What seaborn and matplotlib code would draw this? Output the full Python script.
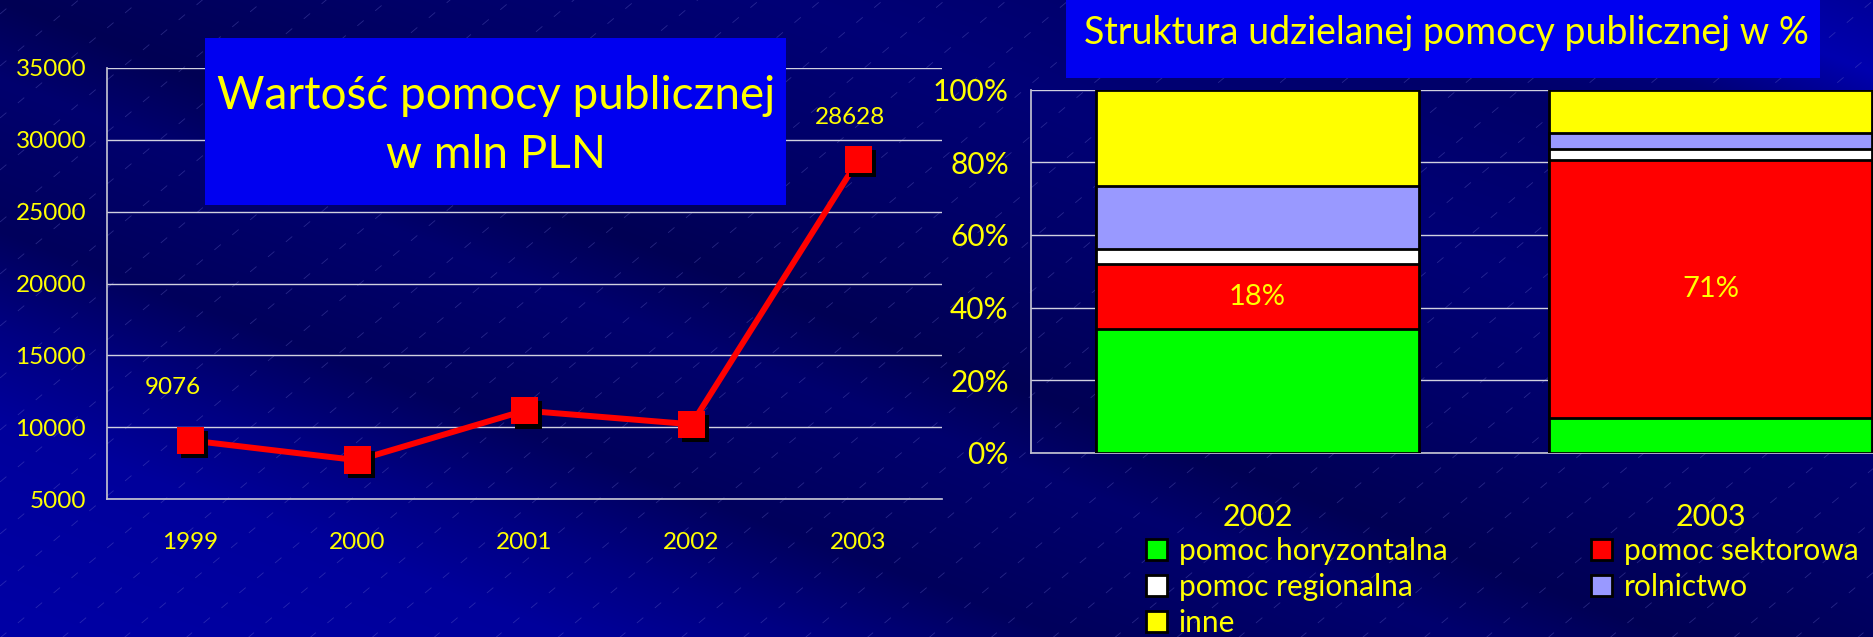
import numpy as np
import matplotlib
matplotlib.use('Agg')
import matplotlib.pyplot as plt
import matplotlib.patheffects as pe
from matplotlib.patches import Rectangle, Patch
from matplotlib.collections import LineCollection
import seaborn as sns

# dane - wartość pomocy publicznej (mln PLN)
years = ['1999', '2000', '2001', '2002', '2003']
values = [9076, 7700, 11150, 10200, 28628]
labelled = [0, 4]

# dane - struktura pomocy w %
bar_years = ['2002', '2003']
horyzontalna = [34, 9.5]
sektorowa = [18, 71]
regionalna = [4, 3]
rolnictwo = [17.5, 4.5]
inne = [26.5, 12]

YELLOW = '#FFFF00'
sns.set_theme(style='white')
plt.rcParams['font.family'] = ['Lato', 'DejaVu Sans']

W, H = 1873, 637
fig = plt.figure(figsize=(W / 100, H / 100), dpi=100)

# tło slajdu (granat z ukośnymi pasami)
bg = fig.add_axes([0, 0, 1, 1], zorder=-10)
yy, xx = np.mgrid[0:H, 0:W]
u = yy - 0.38 * xx
blue = np.interp(u, [-720, -640, -560, -480, -300, -150, 0, 80, 230, 330, 420, 640],
                 [150, 175, 120, 105, 118, 104, 84, 110, 92, 130, 155, 165])
img = np.dstack([np.zeros_like(blue), np.zeros_like(blue), blue / 255.0])
bg.imshow(img, aspect='auto', extent=[0, W, 0, H], origin='upper')
segs = []
for c in range(-W, H + 50, 52):
    segs.append([(0, c), (W, c + W * 0.84)])
bg.add_collection(LineCollection(segs, colors='#7070D0', linewidths=0.6, alpha=0.35,
                                 linestyles=[(0, (10, 18))]))
bg.set_xlim(0, W)
bg.set_ylim(0, H)
bg.axis('off')

# wykres liniowy
ax1 = fig.add_axes([107 / W, 138 / H, 835 / W, 431 / H])
ax1.patch.set_alpha(0)
sns.lineplot(x=years, y=values, color='#FF0000', lw=4.3, ax=ax1, zorder=3)
sns.scatterplot(x=years, y=values, marker='s', s=390, color='#FF0000', edgecolor='#FF0000',
                linewidth=0, legend=False, ax=ax1, zorder=4,
                path_effects=[pe.SimplePatchShadow(offset=(3, -3), shadow_rgbFace='black', alpha=1),
                              pe.Normal()])
offsets = [(-13, 38), (-6, 30)]
for i, off in zip(labelled, offsets):
    ax1.annotate(str(values[i]), (i, values[i]), xytext=off, textcoords='offset points',
                 ha='center', va='center', color=YELLOW, fontsize=17.5)
ax1.set_ylim(5000, 35000)
ax1.set_yticks(range(5000, 35001, 5000))
ax1.set_xlim(-0.5, 4.5)
ax1.set_xticks(range(len(years)))
ax1.set_xticklabels(years)
ax1.set_xticks(np.arange(-0.5, 5, 1), minor=True)
ax1.tick_params(axis='x', which='major', length=0, pad=24, labelsize=17.5, labelcolor=YELLOW)
ax1.tick_params(axis='x', which='minor', length=5, color='#C0C0D0', direction='out')
ax1.tick_params(axis='y', length=4, color='#C0C0D0', pad=11, labelsize=17.5, labelcolor=YELLOW)
ax1.yaxis.grid(True, color='#D0D0E0', lw=1)
ax1.set_axisbelow(True)
for s in ['top', 'right']:
    ax1.spines[s].set_visible(False)
for s in ['left', 'bottom']:
    ax1.spines[s].set_color('#C0C0D0')
ax1.set_xlabel('')
ax1.set_ylabel('')

# wykres słupkowy skumulowany
ax2 = fig.add_axes([1031 / W, 184 / H, 906 / W, 363.5 / H])
ax2.patch.set_alpha(0)
layers = [horyzontalna, sektorowa, regionalna, rolnictwo, inne]
colors = ['#00FF00', '#FF0000', '#FFFFFF', '#9999FF', '#FFFF00']
names = ['pomoc horyzontalna', 'pomoc sektorowa', 'pomoc regionalna', 'rolnictwo', 'inne']
cum = np.cumsum(np.array(layers), axis=0)
for k in range(len(layers) - 1, -1, -1):
    sns.barplot(x=bar_years, y=cum[k], color=colors[k], saturation=1, width=0.713,
                edgecolor='black', linewidth=2, errorbar=None, ax=ax2, zorder=3)
for i in range(len(bar_years)):
    mid = horyzontalna[i] + sektorowa[i] / 2
    ax2.text(i, mid, f'{sektorowa[i]:g}%', ha='center', va='center', color=YELLOW,
             fontsize=21, zorder=5)
ax2.set_ylim(0, 100)
ax2.set_yticks(range(0, 101, 20))
ax2.set_yticklabels([f'{t}%' for t in range(0, 101, 20)])
ax2.set_xlim(-0.5, 1.5)
ax2.set_xticks(np.arange(-0.5, 2, 1), minor=True)
ax2.tick_params(axis='x', which='major', length=0, pad=36, labelsize=22, labelcolor=YELLOW)
ax2.tick_params(axis='x', which='minor', length=7, color='#C0C0D0', direction='out')
ax2.tick_params(axis='y', length=0, pad=16, labelsize=21.5, labelcolor=YELLOW)
ax2.yaxis.grid(True, color='#D0D0E0', lw=1)
ax2.set_axisbelow(True)
for s in ['top', 'right']:
    ax2.spines[s].set_visible(False)
for s in ['left', 'bottom']:
    ax2.spines[s].set_color('#C0C0D0')
ax2.set_xlabel('')
ax2.set_ylabel('')

# legenda (dwie kolumny)
order = [0, 2, 4, 1, 3]
handles = [Patch(facecolor=colors[k], edgecolor='black', linewidth=2, label=names[k]) for k in order]
fig.legend(handles=handles, loc='upper left', bbox_to_anchor=(1146 / W, 1 - 537 / H),
           ncol=2, frameon=False, fontsize=21.5, labelcolor=YELLOW, handlelength=0.7,
           handleheight=0.7, handletextpad=0.4, columnspacing=4.8, labelspacing=0.27,
           borderpad=0, borderaxespad=0)

# tytuły w niebieskich ramkach
fig.add_artist(Rectangle((205 / W, 1 - 205 / H), 581 / W, 167 / H, transform=fig.transFigure,
                         facecolor='#0000F0', edgecolor='none', zorder=5))
fig.text(496 / W, 1 - 96 / H, 'Wartość pomocy publicznej', ha='center', va='center',
         color=YELLOW, fontsize=33, zorder=6)
fig.text(496 / W, 1 - 155 / H, 'w mln PLN', ha='center', va='center',
         color=YELLOW, fontsize=33, zorder=6)
fig.add_artist(Rectangle((1066 / W, 1 - 78 / H), 754 / W, 78 / H, transform=fig.transFigure,
                         facecolor='#0000F0', edgecolor='none', zorder=5))
fig.text(1446 / W, 1 - 33 / H, 'Struktura udzielanej pomocy publicznej w %', ha='center',
         va='center', color=YELLOW, fontsize=27, zorder=6)

fig.savefig('out.png', dpi=100)
